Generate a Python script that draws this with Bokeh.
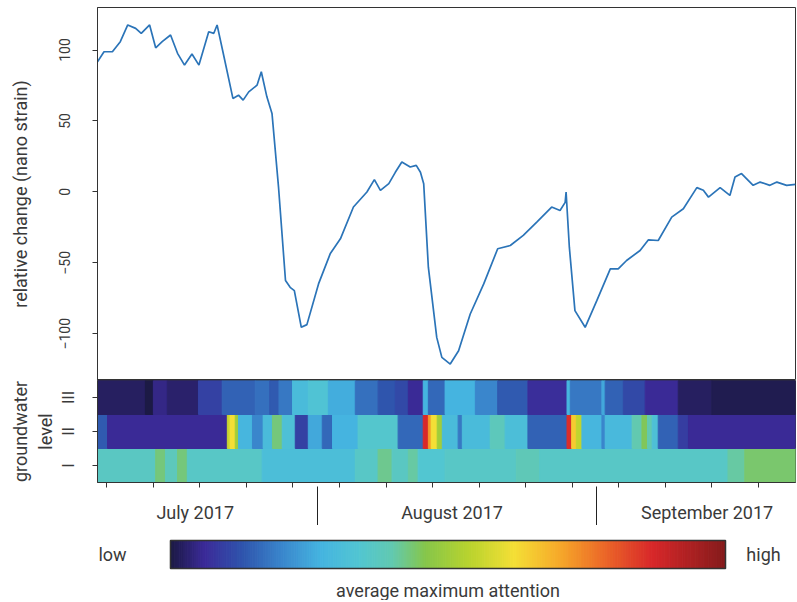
import numpy as np
from bokeh.plotting import figure
from bokeh.layouts import column
from bokeh.models import Range1d, FixedTicker, ColumnDataSource, LinearColorMapper, LinearAxis
from bokeh.core.properties import value
from bokeh.embed import file_html
from bokeh.resources import INLINE

FONT = "Roboto"
TXT = "#3a3a3a"

# ---------------- data ----------------
# time axis in sample units (0 .. 150)
t = [0.0, 1.4, 3.2, 4.9, 6.5, 8.2, 9.4, 11.2, 12.5, 13.9,
     15.7, 17.2, 18.7, 20.3, 21.8, 23.9, 25.0, 25.7, 27.1, 29.1,
     30.3, 31.3, 32.5, 34.3, 35.2, 36.4, 37.5, 38.9, 40.4, 41.4,
     42.3, 43.8, 45.0, 47.5, 50.0, 52.2, 55.0, 57.9, 59.5, 60.8,
     62.6, 64.0, 65.4, 67.2, 68.5, 69.4, 70.1, 71.1, 72.9, 74.0, 75.8, 77.6,
     80.1, 83.0, 86.0, 88.7, 91.5, 94.4, 97.6, 99.4, 100.5, 100.7,
     101.4, 102.6, 104.8, 107.3, 110.2, 111.9, 113.7, 116.6, 118.4, 120.5,
     123.4, 125.9, 128.8, 130.2, 131.3, 133.8, 135.9, 137.0, 138.4, 140.9,
     142.4, 144.5, 146.0, 148.1, 150.0]
strain = [91.7, 98.8, 98.8, 105.9, 117.7, 115.3, 111.8, 117.7, 101.6, 105.9,
          110.6, 97.7, 89.4, 97.2, 89.4, 112.9, 111.8, 117.7, 96.5, 65.9,
          68.2, 64.7, 70.5, 75.3, 84.7, 67.0, 55.3, 3.4, -62.5, -67.3,
          -69.6, -95.5, -93.6, -64.9, -43.7, -33.1, -10.7, -0.1, 8.6, 1.1,
          5.8, 13.8, 21.1, 17.5, 18.7, 13.8, 5.8, -53.1, -102.6, -116.7, -121.4, -112.0,
          -86.1, -64.9, -40.1, -37.8, -30.7, -21.3, -10.7, -13.1, -7.4, -0.1,
          -39.0, -83.7, -95.5, -76.7, -54.3, -54.3, -48.4, -41.3, -33.8, -34.3,
          -17.8, -11.9, 3.0, 1.1, -3.7, 3.0, -2.5, 10.5, 12.9, 4.6,
          6.9, 4.6, 6.9, 4.6, 5.3]
y_ticks = [-100, -50, 0, 50, 100]

# attention heatmap: each row is a list of segment starts and values (0 = low, 1 = high)
level_names = ["I", "II", "III"]
row3_start = [0, 10.3, 12.0, 15.0, 21.7, 26.8, 33.9, 37.0, 39.0, 41.9,
              45.3, 49.6, 55.4, 60.3, 64.0, 66.8, 70.0, 71.1, 74.7, 81.2,
              86.0, 92.5, 100.9, 101.6, 108.4, 109.1, 113.0, 117.7, 124.8, 132.0]
row3_val = [0.02, 0.0, 0.05, 0.03, 0.10, 0.15, 0.17, 0.14, 0.18, 0.30,
            0.33, 0.26, 0.17, 0.13, 0.11, 0.06, 0.27, 0.16, 0.27, 0.20,
            0.14, 0.07, 0.28, 0.18, 0.25, 0.15, 0.11, 0.06, 0.02, 0.01]
row2_start = [0, 2.15, 27.9, 28.5, 29.6, 30.3, 33.3, 35.6, 37.6, 39.7,
              42.5, 45.3, 48.3, 50.5, 56.0, 64.6, 70.0, 71.1, 71.7, 73.0,
              74.1, 77.5, 78.4, 84.4, 87.6, 92.5, 100.9, 101.9, 102.9, 104.1,
              108.4, 109.1, 114.9, 117.0, 118.2, 119.2, 120.5, 124.8, 127.0]
row2_val = [0.14, 0.06, 0.56, 0.62, 0.50, 0.28, 0.20, 0.30, 0.43, 0.32,
            0.10, 0.25, 0.16, 0.27, 0.35, 0.16, 0.87, 0.72, 0.62, 0.50,
            0.30, 0.18, 0.30, 0.38, 0.31, 0.15, 0.86, 0.65, 0.55, 0.28,
            0.20, 0.29, 0.40, 0.45, 0.40, 0.32, 0.15, 0.09, 0.06]
row1_start = [0, 12.5, 14.6, 17.2, 19.3, 35.4, 55.4, 60.3, 63.3, 66.8,
              68.9, 74.7, 90.0, 95.0, 135.5, 139.1]
row1_val = [0.37, 0.43, 0.38, 0.43, 0.36, 0.31, 0.36, 0.42, 0.37, 0.41,
            0.34, 0.36, 0.39, 0.36, 0.41, 0.44]

# x-axis: small ticks, month boundaries, month label positions
small_ticks = [2, 12, 22, 32, 42, 52, 62, 72, 82, 92, 102, 112, 122, 132, 142]
month_bounds = [47.2, 107.2]
month_names = ["July 2017", "August 2017", "September 2017"]
month_label_t = [21.0, 76.2, 131.0]
T_END = 150.0

# colour bar texts
cbar_texts = ["low", "high", "average maximum attention"]

# ---------------- colour scale ----------------
stops = [(0.00, "#1c1a45"), (0.06, "#3b2a98"), (0.13, "#2f55ad"), (0.20, "#3a86cc"),
         (0.27, "#45b4e0"), (0.34, "#52c6d2"), (0.40, "#62c9b0"), (0.46, "#86c64a"),
         (0.54, "#b9d32e"), (0.62, "#f4df36"), (0.70, "#f6ab2a"), (0.78, "#ec6a28"),
         (0.87, "#d8282a"), (1.00, "#861b1c")]


def _rgb(h):
    return tuple(int(h[i:i + 2], 16) for i in (1, 3, 5))


palette = []
for i in range(256):
    f = i / 255
    for (a, ca), (b, cb) in zip(stops[:-1], stops[1:]):
        if a <= f <= b:
            w = (f - a) / (b - a)
            c = [round(x + (y - x) * w) for x, y in zip(_rgb(ca), _rgb(cb))]
            palette.append("#%02x%02x%02x" % tuple(c))
            break
mapper = LinearColorMapper(palette=palette, low=0, high=1)

W = 797
xr = Range1d(0, T_END)
common = dict(output_backend="svg", toolbar_location=None, width=W,
              min_border_left=97, min_border_right=2,
              background_fill_color="white", border_fill_color="white")

# ---------------- strain line ----------------
p1 = figure(height=380, x_range=xr, y_range=Range1d(-133, 130),
            x_axis_location=None, min_border_top=7, min_border_bottom=0, **common)
p1.line(t, strain, line_color="#2b74b8", line_width=1.7)
p1.grid.visible = False
p1.outline_line_color = "#333333"
p1.outline_line_width = 1
ya = p1.yaxis[0]
ya.ticker = FixedTicker(ticks=y_ticks)
ya.major_label_orientation = "vertical"
ya.major_tick_out = 5
ya.major_tick_in = 0
ya.minor_tick_out = 0
ya.major_tick_line_color = "#333333"
ya.axis_line_color = "#333333"
ya.major_label_text_font = FONT
ya.major_label_text_font_size = "14px"
ya.major_label_text_color = TXT
ya.major_label_standoff = 22
ya.axis_label = "relative change (nano strain)"
ya.axis_label_text_font = FONT
ya.axis_label_text_font_size = "18px"
ya.axis_label_text_font_style = "normal"
ya.axis_label_text_color = TXT
ya.axis_label_standoff = 26

# ---------------- heatmap ----------------
lefts, rights, bottoms, tops, vals = [], [], [], [], []
for k, (starts, vv) in enumerate([(row1_start, row1_val), (row2_start, row2_val), (row3_start, row3_val)]):
    ends = starts[1:] + [T_END]
    for s, e, v in zip(starts, ends, vv):
        lefts.append(s)
        rights.append(e)
        bottoms.append(k)
        tops.append(k + 1)
        vals.append(v)
hsrc = ColumnDataSource(dict(left=lefts, right=rights, bottom=bottoms, top=tops, val=vals))

p2 = figure(height=145, x_range=xr, y_range=Range1d(0, 3),
            min_border_top=0, min_border_bottom=38, **common)
p2.quad(left="left", right="right", bottom="bottom", top="top", source=hsrc,
        fill_color={"field": "val", "transform": mapper},
        line_color={"field": "val", "transform": mapper}, line_width=1)
p2.grid.visible = False
p2.outline_line_color = "#333333"
p2.outline_line_width = 1

y2 = p2.yaxis[0]
y2.ticker = FixedTicker(ticks=[0.5, 1.5, 2.5])
y2.major_label_overrides = {0.5: level_names[0], 1.5: level_names[1], 2.5: level_names[2]}
y2.major_label_orientation = "vertical"
y2.major_tick_out = 5
y2.major_tick_in = 0
y2.minor_tick_out = 0
y2.major_tick_line_color = "#333333"
y2.axis_line_color = "#333333"
y2.major_label_text_font = FONT
y2.major_label_text_font_size = "16px"
y2.major_label_text_color = TXT
y2.major_label_standoff = 15
y2.axis_label = "groundwater\nlevel"
y2.axis_label_text_font = FONT
y2.axis_label_text_font_size = "18px"
y2.axis_label_text_font_style = "normal"
y2.axis_label_text_color = TXT
y2.axis_label_text_line_height = 1.15
y2.axis_label_standoff = 0

# axis A: month names + small ticks
xa = p2.xaxis[0]
xa.ticker = FixedTicker(ticks=month_label_t, minor_ticks=small_ticks)
xa.major_label_overrides = {m: n for m, n in zip(month_label_t, month_names)}
xa.major_tick_out = 0
xa.major_tick_in = 0
xa.minor_tick_out = 5
xa.minor_tick_in = 0
xa.minor_tick_line_color = "#333333"
xa.axis_line_color = "#333333"
xa.major_label_text_font = FONT
xa.major_label_text_font_size = "18px"
xa.major_label_text_color = TXT
xa.major_label_standoff = 14

# axis B: long month separators reaching up to the heatmap
xb = LinearAxis(ticker=FixedTicker(ticks=month_bounds))
xb.major_label_overrides = {b: "" for b in month_bounds}
xb.major_label_text_font_size = "1px"
xb.major_label_standoff = 0
xb.major_tick_out = 0
xb.major_tick_in = 39
xb.minor_tick_out = 0
xb.minor_tick_in = 0
xb.major_tick_line_color = "#222222"
xb.axis_line_color = None
p2.add_layout(xb, "below")

# ---------------- colour bar ----------------
# frame spans the full plot width; the bar occupies 0..1 in both directions
p3 = figure(height=75, x_range=Range1d(-0.1315, 1.1261), y_range=Range1d(-1.143, 1.536),
            x_axis_location=None, y_axis_location=None,
            min_border_top=0, min_border_bottom=0, **common)
n = len(palette)
p3.quad(left=[i / n for i in range(n)], right=[(i + 1) / n for i in range(n)],
        bottom=0, top=1, fill_color=palette, line_color=palette, line_width=1)
p3.quad(left=[0], right=[1], bottom=[0], top=[1], fill_color=None,
        line_color="#333333", line_width=1.5)
p3.grid.visible = False
p3.outline_line_color = None
p3.text(x=[-0.1045, 1.0685, 0.5], y=[0.5, 0.5, -0.786], text=cbar_texts,
        text_align="center", text_baseline="middle",
        text_font=value(FONT), text_font_size="18px", text_color=TXT)

layout = column(p1, p2, p3, spacing=0)
open("out.html", "w").write(file_html(layout, INLINE))
